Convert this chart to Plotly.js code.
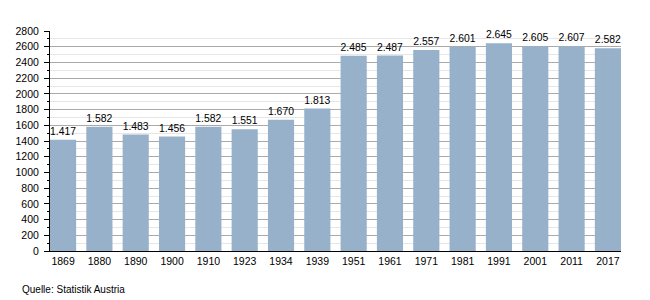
<!DOCTYPE html>
<html>
<head>
<meta charset="utf-8">
<script src="https://cdn.plot.ly/plotly-3.0.1.min.js"></script>
<style>html,body{margin:0;padding:0;background:#fff;}#chart{width:650px;height:300px;}</style>
</head>
<body>
<div id="chart"></div>
<script>
const years = ['1869','1880','1890','1900','1910','1923','1934','1939','1951','1961','1971','1981','1991','2001','2011','2017'];
const values = [1417,1582,1483,1456,1582,1551,1670,1813,2485,2487,2557,2601,2645,2605,2607,2582];
const yTicks = [0,200,400,600,800,1000,1200,1400,1600,1800,2000,2200,2400,2600,2800];
const sourceText = 'Quelle: Statistik Austria';

function fmt(v){ return String(v).replace(/\B(?=(\d{3})+(?!\d))/g,'.'); }

const trace = {
  type:'bar', x: years, y: values,
  text: values.map(fmt), textposition:'outside', cliponaxis:false,
  textfont:{family:'Liberation Sans, Arial, sans-serif', size:10.5, color:'#000'},
  marker:{color:'#97b1cb'}, hoverinfo:'none'
};
const layout = {
  width:650, height:300,
  margin:{l:50, r:29, t:31, b:49},
  paper_bgcolor:'#fff', plot_bgcolor:'#fff',
  showlegend:false, bargap:0.28,
  font:{family:'Liberation Sans, Arial, sans-serif', size:10, color:'#000'},
  xaxis:{type:'category', range:[-0.36, years.length-1+0.36], showline:true, linecolor:'#000', linewidth:1, ticks:'', showgrid:false,
         tickfont:{size:10.5}, automargin:false},
  yaxis:{range:[0,2800], tickvals:yTicks, ticktext:yTicks.map(String), showline:true, linecolor:'#000', linewidth:1,
         ticks:'outside', ticklen:5, tickcolor:'#000', showgrid:true, gridcolor:'#aaaaaa', gridwidth:1,
         ticklabelstandoff:3,
         zeroline:false, tickfont:{size:10.5}, automargin:false,
         minor:{dtick:100, tick0:0, showgrid:true, gridcolor:'#e6e6e6', ticks:'outside', ticklen:2, tickcolor:'#000'}},
  annotations:[{text:sourceText, xref:'paper', yref:'paper', x:-0.052, y:-0.173, xanchor:'left', yanchor:'middle',
                showarrow:false, font:{size:10, color:'#000'}}]
};
Plotly.newPlot('chart',[trace],layout,{staticPlot:true, displayModeBar:false});
</script>
</body>
</html>
